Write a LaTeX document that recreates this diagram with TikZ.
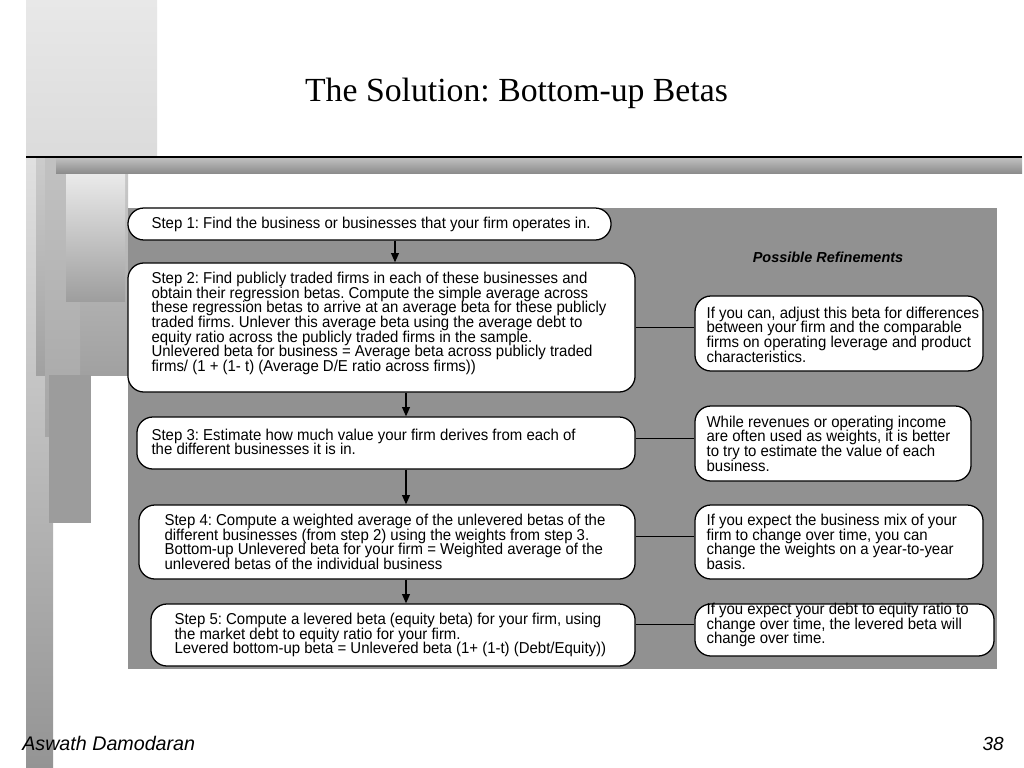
\documentclass[tikz,border=0pt]{standalone}
\usepackage{fontspec}
\setmainfont{Liberation Serif}
\setsansfont{Liberation Sans}
\newfontfamily\boxfont[FakeStretch=0.95]{Liberation Sans}
\usepackage{tikz}
\usetikzlibrary{arrows.meta,calc,positioning}
\definecolor{panelgray}{RGB}{145,145,145}
\frenchspacing
\tikzset{
    mybox/.style={draw=black,line width=0.9pt,fill=white,rounded corners=0.4cm,inner sep=0pt},
    mytext/.style={anchor=west,align=left,inner sep=0pt,font=\boxfont\fontsize{11.2pt}{10.46pt}\selectfont},
    myarrow/.style={line width=0.9pt,draw=black,-{Triangle[length=6.5pt,width=5.5pt]}},
    mylink/.style={line width=1.1pt,draw=black},
    every node/.style={font=\small}
}
\begin{document}
\begin{tikzpicture}[x=0.025cm,y=-0.025cm]
  \fill[white] (0,0) rectangle (1024,768);
  \useasboundingbox (0,0) rectangle (1024,768);
  \shade[top color=black!9,bottom color=black!14] (26,0) rectangle (157,157);
  \shade[top color=black!12,bottom color=black!42] (26,157) rectangle (53,768);
  \shade[top color=black!20,bottom color=black!37] (36,157) rectangle (128,375);
  \shade[top color=black!24,bottom color=black!35] (45,157) rectangle (80,436);
  \fill[black!39] (49,375) rectangle (91,523);
  \shade[top color=black!8,bottom color=black!38] (66,173) rectangle (125,301);
  \shade[top color=black!25,middle color=black!9,bottom color=black!45] (56,158) rectangle (1022,173);
  \draw[black,line width=1.2pt] (26,157) -- (1022,157);
  \fill[panelgray] (128,208) rectangle (997,669);

  \node[font=\rmfamily\fontsize{24pt}{28pt}\selectfont,anchor=base] (title) at (516.5,101.7) {The Solution: Bottom-up Betas};
  \node[font=\sffamily\bfseries\itshape\fontsize{10.3pt}{12pt}\selectfont,anchor=base] (refhead) at (828,262.7) {Possible Refinements};

  \node[mybox,minimum width=12.075cm,minimum height=0.8cm] (s1) at (369.5,224) {};
  \node[mybox,minimum width=12.675cm,minimum height=3.225cm] (s2) at (381.5,327.5) {};
  \node[mybox,minimum width=12.45cm,minimum height=1.3cm] (s3) at (386,443) {};
  \node[mybox,minimum width=12.4cm,minimum height=1.85cm] (s4) at (387,542) {};
  \node[mybox,minimum width=12.1cm,minimum height=1.55cm] (s5) at (393,635) {};
  \node[mybox,minimum width=7.2cm,minimum height=1.875cm] (r2) at (839,333.5) {};
  \node[mybox,minimum width=6.9cm,minimum height=1.875cm] (r3) at (833,443.5) {};
  \node[mybox,minimum width=7.2cm,minimum height=1.85cm] (r4) at (839,542) {};
  \node[mybox,minimum width=7.475cm,minimum height=1.3cm] (r5) at (844.5,630) {};

  \node[mytext] (s1t) at ($(s1.west)+(24,0)$) {Step 1: Find the business or businesses that your firm operates in.};
  \node[mytext] (s2t) at ($(s2.west)+(24,-4)$) {Step 2: Find publicly traded firms in each of these businesses and\\
    obtain their regression betas. Compute the simple average across\\
    these regression betas to arrive at an average beta for these publicly\\
    traded firms. Unlever this average beta using the average debt to\\
    equity ratio across the publicly traded firms in the sample.\\
    Unlevered beta for business = Average beta across publicly traded\\
    firms/ (1 + (1- t) (Average D/E ratio across firms))};
  \node[mytext] (s3t) at ($(s3.west)+(15,-1)$) {Step 3: Estimate how much value your firm derives from each of\\
    the different businesses it is in.};
  \node[mytext] (s4t) at ($(s4.west)+(26,0)$) {Step 4: Compute a weighted average of the unlevered betas of the\\
    different businesses (from step 2) using the weights from step 3.\\
    Bottom-up Unlevered beta for your firm = Weighted average of the\\
    unlevered betas of the individual business};
  \node[mytext] (s5t) at ($(s5.west)+(24,0)$) {Step 5: Compute a levered beta (equity beta) for your firm, using\\
    the market debt to equity ratio for your firm.\\
    Levered bottom-up beta = Unlevered beta (1+ (1-t) (Debt/Equity))};
  \node[mytext] (r2t) at ($(r2.west)+(12,1)$) {If you can, adjust this beta for differences\\
    between your firm and the comparable\\
    firms on operating leverage and product\\
    characteristics.};
  \node[mytext] (r3t) at ($(r3.west)+(12,0)$) {While revenues or operating income\\
    are often used as weights, it is better\\
    to try to estimate the value of each\\
    business.};
  \node[mytext] (r4t) at ($(r4.west)+(12,0)$) {If you expect the business mix of your\\
    firm to change over time, you can\\
    change the weights on a year-to-year\\
    basis.};
  \node[mytext] (r5t) at ($(r5.west)+(12,-5)$) {If you expect your debt to equity ratio to\\
    change over time, the levered beta will\\
    change over time.};

  \coordinate (colA) at (395,0);
  \coordinate (colB) at (406,0);
  \draw[myarrow] (s1.south -| colA) -- (s2.north -| colA);
  \foreach \a/\b in {s2/s3,s3/s4,s4/s5}{\draw[myarrow] (\a.south -| colB) -- (\b.north -| colB);}
  \foreach \a/\b/\d in {s2/r2/0,s3/r3/-4.5,s4/r4/-5.5,s5/r5/-10.5}{
    \coordinate (c\a) at ($(\a.east)+(0,\d)$);
    \draw[mylink] (c\a) -- (c\a -| \b.west);
  }

  \node[font=\sffamily\itshape\fontsize{14pt}{16pt}\selectfont,anchor=base west,inner sep=0pt] (author) at (22,750.7) {Aswath Damodaran};
  \node[font=\sffamily\itshape\fontsize{13.5pt}{16pt}\selectfont,anchor=base east,inner sep=0pt] (page) at (1004,750) {38};
\end{tikzpicture}
\end{document}
